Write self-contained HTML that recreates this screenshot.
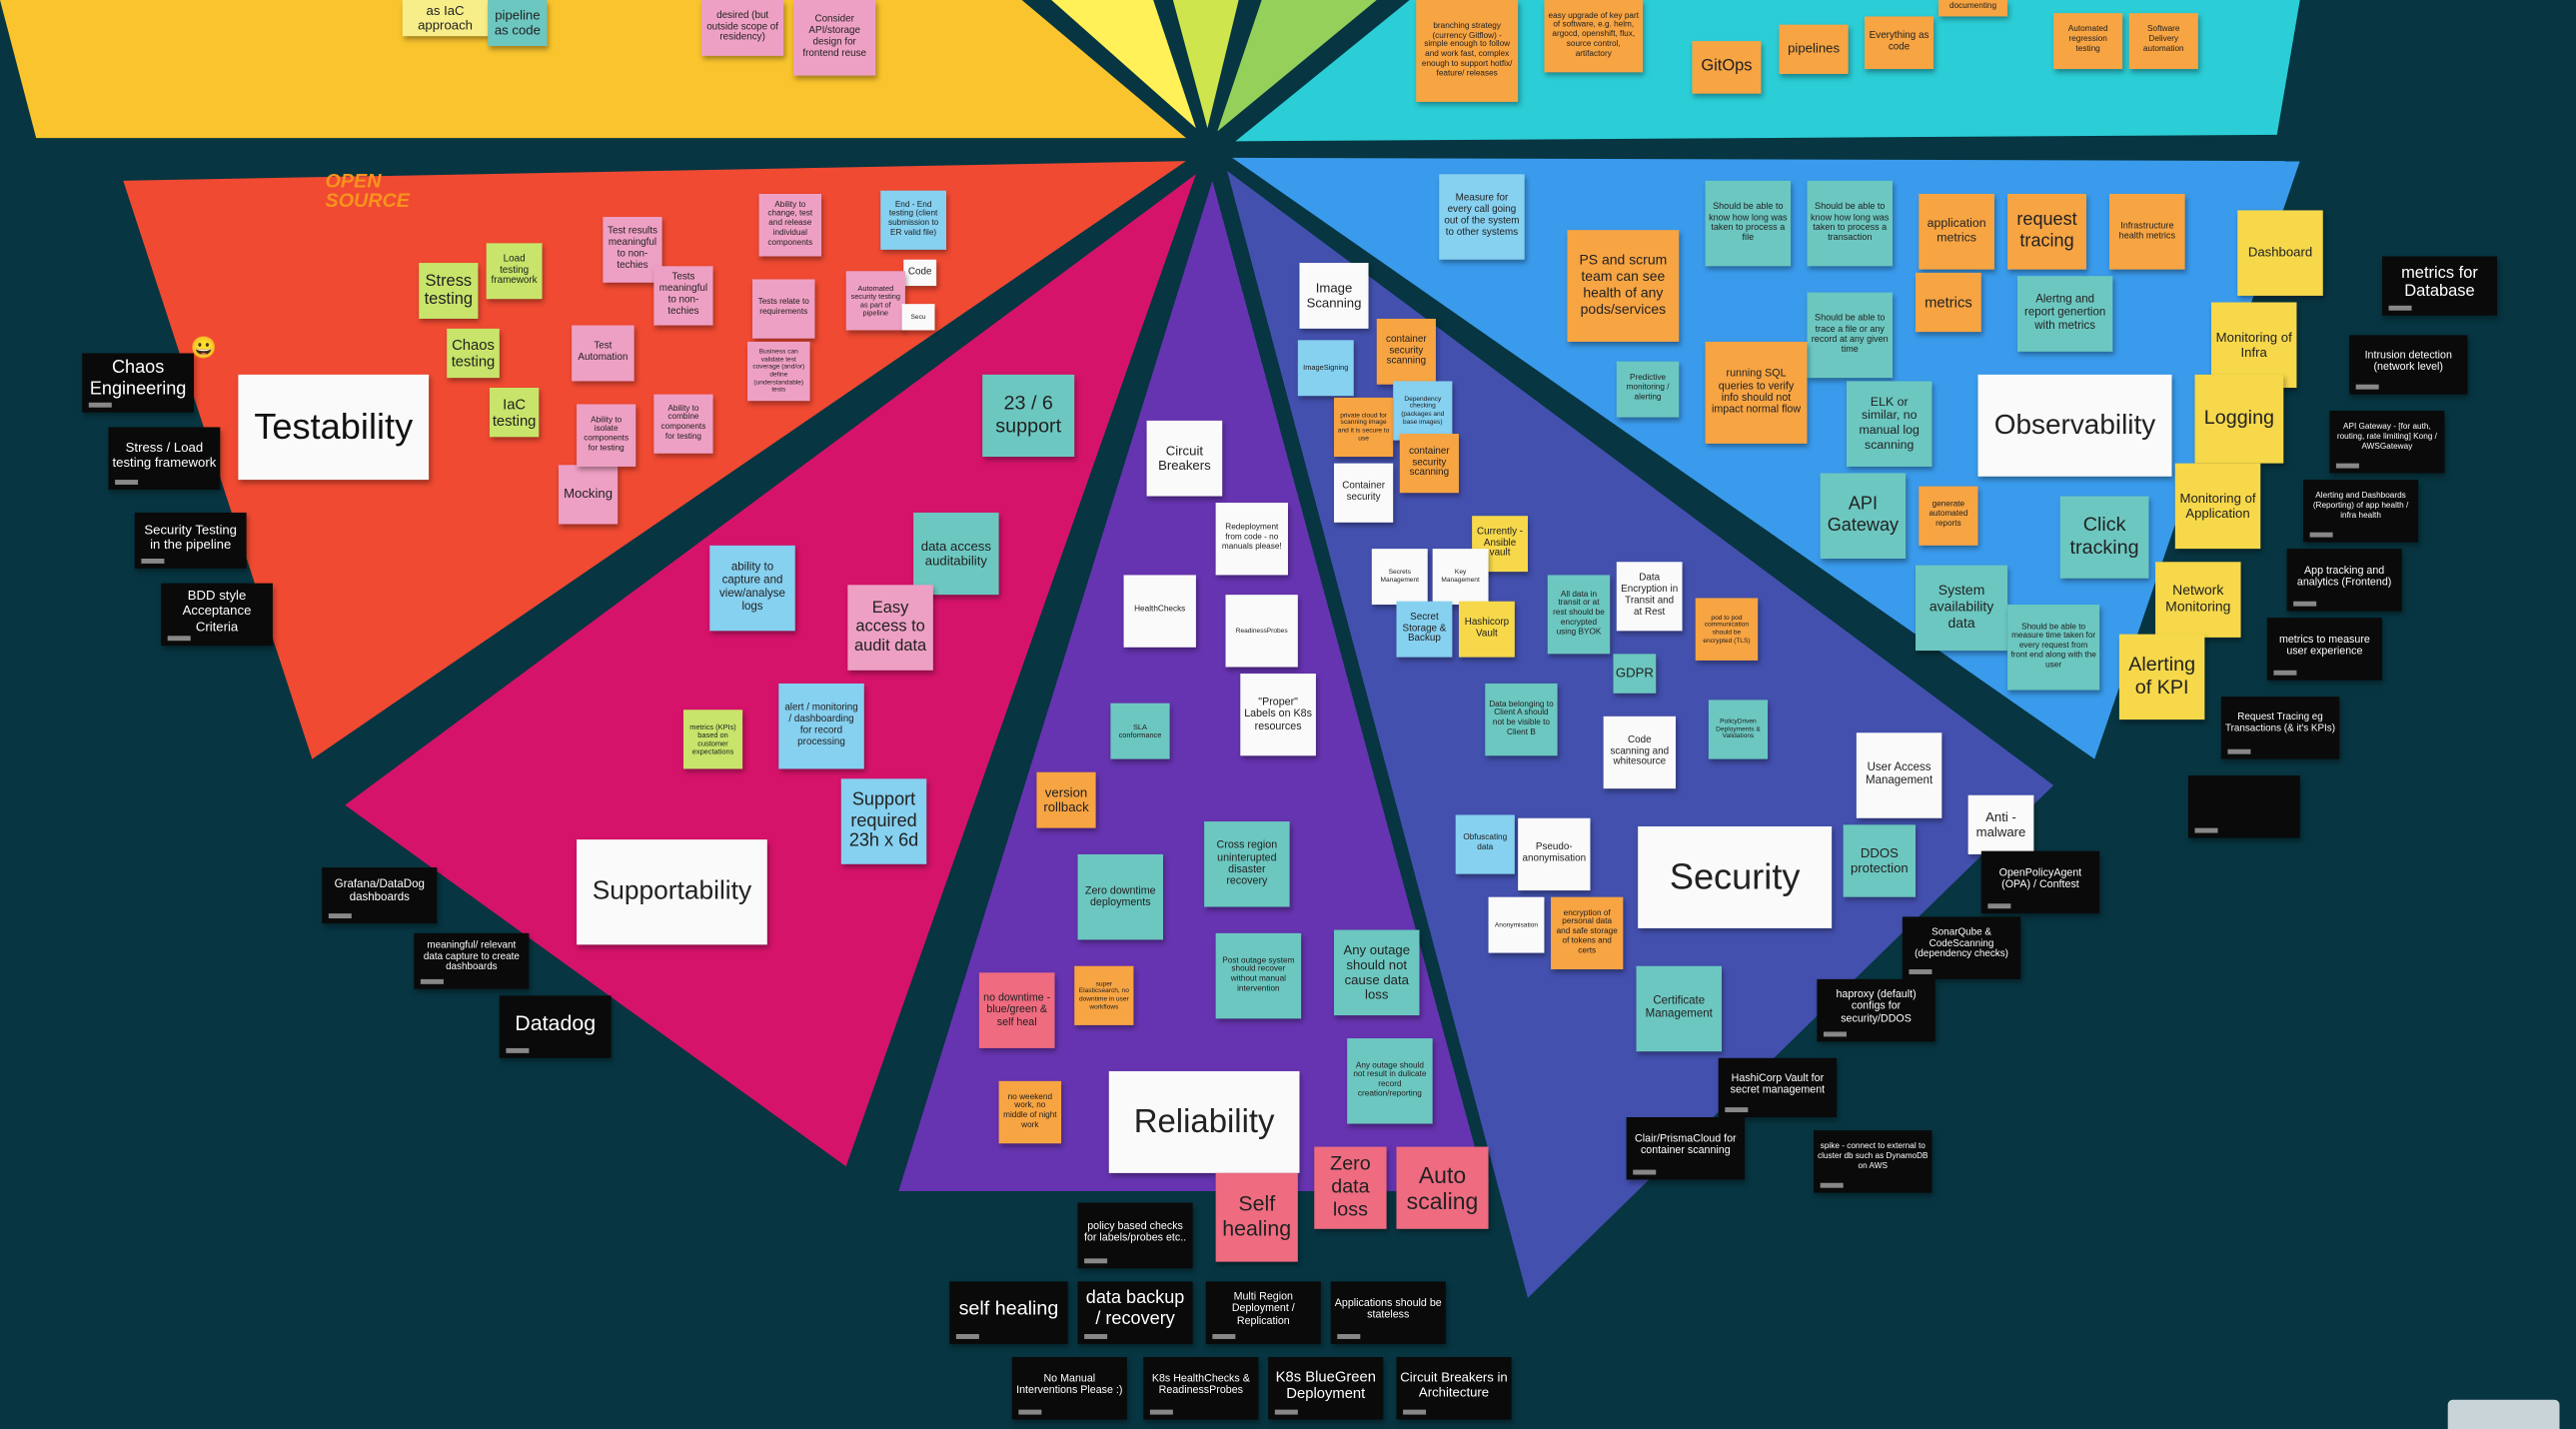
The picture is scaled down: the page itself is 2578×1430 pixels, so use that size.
<!DOCTYPE html>
<html><head><meta charset="utf-8"><title>Architecture qualities board</title>
<style>
html,body{margin:0;padding:0;background:#073541;overflow:hidden}
#stage{position:absolute;left:0;top:0;width:1568px;height:870px;transform:scale(1.6441);transform-origin:0 0;background:#073541;font-family:"Liberation Sans",sans-serif}
svg.bg{position:absolute;left:0;top:0}
.n{position:absolute;display:flex;align-items:center;justify-content:center;text-align:center;line-height:1.15;padding:2px;box-sizing:border-box;box-shadow:1px 2px 3px rgba(0,0,0,.35);overflow:hidden;color:#222;font-size:6px}
.p{background:#eea0c4}.g{background:#c8e46a}.t{background:#6cc7c0}.b{background:#86d0f0}.o{background:#f7a443}.y{background:#f6d84a}.w{background:#fafafa}.r{background:#ee6b80}.ly{background:#f7ee8a}
.k{background:#0a0a0a;color:#fff;padding-bottom:6px}
.k::after{content:"";position:absolute;left:4px;bottom:3px;width:14px;height:3px;background:#888}
.big{font-size:20px;color:#111}
</style></head><body>
<div id="stage">
<svg class="bg" width="1568" height="870" viewBox="0 0 1568 870">
<polygon fill="#f9c42d" points="0,0 622,0 722,84 22,84"/>
<polygon fill="#fff157" points="640,0 702,0 728,78"/>
<polygon fill="#cfe54e" points="714,0 754,0 735,78"/>
<polygon fill="#94d05a" points="768,0 838,0 741,80"/>
<polygon fill="#2bcdd6" points="858,0 1400,0 1386,82 752,86"/>
<polygon fill="#3a9bec" points="750,96 1400,98 1275,462"/>
<polygon fill="#4350ae" points="747,104 1250,478 930,790"/>
<polygon fill="#6634b0" points="738,110 905,725 547,725"/>
<polygon fill="#d5136a" points="728,106 515,710 210,490"/>
<polygon fill="#f04a32" points="722,98 75,110 190,462"/>
</svg>

<!-- top yellow -->
<div class="n ly" style="left:245px;top:0;width:52px;height:22px;font-size:8px">as IaC approach</div>
<div class="n t" style="left:297px;top:0;width:36px;height:28px;font-size:8px">pipeline as code</div>
<div class="n p" style="left:427px;top:0;width:50px;height:34px">desired (but outside scope of residency)</div>
<div class="n p" style="left:483px;top:0;width:50px;height:46px">Consider API/storage design for frontend reuse</div>
<!-- top cyan -->
<div class="n o" style="left:862px;top:0;width:62px;height:62px;font-size:5px">branching strategy (currency Gitflow) - simple enough to follow and work fast, complex enough to support hotfix/ feature/ releases</div>
<div class="n o" style="left:940px;top:0;width:60px;height:44px;font-size:5px">easy upgrade of key part of software, e.g. helm, argocd, openshift, flux, source control, artifactory</div>
<div class="n o" style="left:1030px;top:25px;width:42px;height:32px;font-size:10px">GitOps</div>
<div class="n o" style="left:1083px;top:15px;width:42px;height:30px;font-size:8px">pipelines</div>
<div class="n o" style="left:1135px;top:10px;width:42px;height:32px">Everything as code</div>
<div class="n o" style="left:1180px;top:0;width:42px;height:10px;font-size:5px">documenting</div>
<div class="n o" style="left:1250px;top:8px;width:42px;height:34px;font-size:5px">Automated regression testing</div>
<div class="n o" style="left:1296px;top:8px;width:42px;height:34px;font-size:5px">Software Delivery automation</div>

<!-- testability -->
<div style="position:absolute;left:198px;top:104px;color:#f7941d;font-weight:bold;font-style:italic;font-size:12px;line-height:1">OPEN<br>SOURCE</div>
<div style="position:absolute;left:116px;top:204px;font-size:13px">😀</div>
<div class="n w big" style="left:145px;top:228px;width:116px;height:64px;font-size:22px">Testability</div>
<div class="n g" style="left:255px;top:160px;width:36px;height:34px;font-size:10px">Stress testing</div>
<div class="n g" style="left:296px;top:148px;width:34px;height:34px">Load testing framework</div>
<div class="n g" style="left:272px;top:200px;width:32px;height:30px;font-size:9px">Chaos testing</div>
<div class="n g" style="left:298px;top:236px;width:30px;height:30px;font-size:9px">IaC testing</div>
<div class="n p" style="left:340px;top:283px;width:36px;height:36px;font-size:8px">Mocking</div>
<div class="n p" style="left:367px;top:132px;width:36px;height:40px">Test results meaningful to non-techies</div>
<div class="n p" style="left:398px;top:162px;width:36px;height:36px">Tests meaningful to non-techies</div>
<div class="n p" style="left:348px;top:198px;width:38px;height:34px">Test Automation</div>
<div class="n p" style="left:351px;top:246px;width:36px;height:38px;font-size:5px">Ability to isolate components for testing</div>
<div class="n p" style="left:398px;top:240px;width:36px;height:36px;font-size:5px">Ability to combine components for testing</div>
<div class="n p" style="left:462px;top:118px;width:38px;height:38px;font-size:5px">Ability to change, test and release individual components</div>
<div class="n p" style="left:458px;top:170px;width:38px;height:36px;font-size:5px">Tests relate to requirements</div>
<div class="n p" style="left:455px;top:208px;width:38px;height:36px;font-size:4px">Business can validate test coverage (and/or) define (understandable) tests</div>
<div class="n b" style="left:536px;top:116px;width:40px;height:36px;font-size:5px">End - End testing (client submission to ER valid file)</div>
<div class="n w" style="left:550px;top:158px;width:20px;height:16px">Code</div>
<div class="n p" style="left:515px;top:165px;width:36px;height:36px;font-size:4.5px">Automated security testing as part of pipeline</div>
<div class="n w" style="left:549px;top:185px;width:20px;height:16px;font-size:4px">Secu</div>
<div class="n k" style="left:50px;top:215px;width:68px;height:36px;font-size:11px">Chaos Engineering</div>
<div class="n k" style="left:66px;top:260px;width:68px;height:38px;font-size:8px">Stress / Load testing framework</div>
<div class="n k" style="left:82px;top:312px;width:68px;height:34px;font-size:8px">Security Testing in the pipeline</div>
<div class="n k" style="left:98px;top:355px;width:68px;height:38px;font-size:8px">BDD style Acceptance Criteria</div>

<!-- supportability -->
<div class="n w" style="left:351px;top:511px;width:116px;height:64px;font-size:16px">Supportability</div>
<div class="n t" style="left:598px;top:228px;width:56px;height:50px;font-size:12px">23 / 6 support</div>
<div class="n t" style="left:556px;top:312px;width:52px;height:50px;font-size:8px">data access auditability</div>
<div class="n b" style="left:432px;top:332px;width:52px;height:52px;font-size:7px">ability to capture and view/analyse logs</div>
<div class="n p" style="left:516px;top:356px;width:52px;height:52px;font-size:10px">Easy access to audit data</div>
<div class="n b" style="left:474px;top:416px;width:52px;height:52px;font-size:6px">alert / monitoring / dashboarding for record processing</div>
<div class="n b" style="left:512px;top:474px;width:52px;height:52px;font-size:11px">Support required 23h x 6d</div>
<div class="n g" style="left:416px;top:432px;width:36px;height:36px;font-size:4.5px">metrics (KPIs) based on customer expectations</div>
<div class="n k" style="left:196px;top:528px;width:70px;height:34px;font-size:7px">Grafana/DataDog dashboards</div>
<div class="n k" style="left:252px;top:568px;width:70px;height:34px;font-size:6px">meaningful/ relevant data capture to create dashboards</div>
<div class="n k" style="left:304px;top:606px;width:68px;height:38px;font-size:13px">Datadog</div>

<!-- reliability -->
<div class="n w" style="left:675px;top:652px;width:116px;height:62px;font-size:20px">Reliability</div>
<div class="n w" style="left:698px;top:256px;width:46px;height:46px;font-size:8px">Circuit Breakers</div>
<div class="n w" style="left:740px;top:306px;width:44px;height:44px;font-size:5px">Redeployment from code - no manuals please!</div>
<div class="n w" style="left:684px;top:350px;width:44px;height:44px;font-size:5px">HealthChecks</div>
<div class="n w" style="left:746px;top:362px;width:44px;height:44px;font-size:4px">ReadinessProbes</div>
<div class="n w" style="left:755px;top:410px;width:46px;height:50px;font-size:6.5px">"Proper" Labels on K8s resources</div>
<div class="n t" style="left:676px;top:428px;width:36px;height:34px;font-size:4.5px">SLA conformance</div>
<div class="n o" style="left:631px;top:470px;width:36px;height:34px;font-size:8px">version rollback</div>
<div class="n t" style="left:733px;top:500px;width:52px;height:52px;font-size:6.5px">Cross region uninterupted disaster recovery</div>
<div class="n t" style="left:656px;top:520px;width:52px;height:52px;font-size:6.5px">Zero downtime deployments</div>
<div class="n t" style="left:740px;top:568px;width:52px;height:52px;font-size:5px">Post outage system should recover without manual intervention</div>
<div class="n t" style="left:812px;top:566px;width:52px;height:52px;font-size:8px">Any outage should not cause data loss</div>
<div class="n r" style="left:596px;top:592px;width:46px;height:46px;font-size:6.5px">no downtime - blue/green &amp; self heal</div>
<div class="n o" style="left:654px;top:588px;width:36px;height:36px;font-size:4px">super Elasticsearch, no downtime in user workflows</div>
<div class="n o" style="left:608px;top:658px;width:38px;height:38px;font-size:5px">no weekend work, no middle of night work</div>
<div class="n t" style="left:820px;top:632px;width:52px;height:52px;font-size:5px">Any outage should not result in dulicate record creation/reporting</div>
<div class="n r" style="left:740px;top:714px;width:50px;height:54px;font-size:13px">Self healing</div>
<div class="n r" style="left:800px;top:698px;width:44px;height:50px;font-size:12px">Zero data loss</div>
<div class="n r" style="left:850px;top:698px;width:56px;height:50px;font-size:14px">Auto scaling</div>
<div class="n k" style="left:656px;top:732px;width:70px;height:40px;font-size:6.5px">policy based checks for labels/probes etc..</div>
<div class="n k" style="left:578px;top:780px;width:72px;height:38px;font-size:12px">self healing</div>
<div class="n k" style="left:656px;top:780px;width:70px;height:38px;font-size:11px">data backup / recovery</div>
<div class="n k" style="left:734px;top:780px;width:70px;height:38px;font-size:6.5px">Multi Region Deployment / Replication</div>
<div class="n k" style="left:810px;top:780px;width:70px;height:38px;font-size:6.5px">Applications should be stateless</div>
<div class="n k" style="left:616px;top:826px;width:70px;height:38px;font-size:6.5px">No Manual Interventions Please :)</div>
<div class="n k" style="left:696px;top:826px;width:70px;height:38px;font-size:6.5px">K8s HealthChecks &amp; ReadinessProbes</div>
<div class="n k" style="left:772px;top:826px;width:70px;height:38px;font-size:9px">K8s BlueGreen Deployment</div>
<div class="n k" style="left:850px;top:826px;width:70px;height:38px;font-size:8px">Circuit Breakers in Architecture</div>

<!-- security -->
<div class="n w" style="left:997px;top:503px;width:118px;height:62px;font-size:22px">Security</div>
<div class="n w" style="left:791px;top:160px;width:42px;height:40px;font-size:8px">Image Scanning</div>
<div class="n b" style="left:790px;top:207px;width:34px;height:34px;font-size:4.5px">ImageSigning</div>
<div class="n o" style="left:838px;top:194px;width:36px;height:40px">container security scanning</div>
<div class="n o" style="left:812px;top:242px;width:36px;height:36px;font-size:4px">private cloud for scanning image and it is secure to use</div>
<div class="n b" style="left:848px;top:232px;width:36px;height:36px;font-size:4px">Dependency checking (packages and base images)</div>
<div class="n o" style="left:852px;top:264px;width:36px;height:36px">container security scanning</div>
<div class="n w" style="left:812px;top:282px;width:36px;height:36px">Container security</div>
<div class="n y" style="left:896px;top:314px;width:34px;height:34px">Currently - Ansible vault</div>
<div class="n w" style="left:835px;top:334px;width:34px;height:34px;font-size:4px">Secrets Management</div>
<div class="n w" style="left:872px;top:334px;width:34px;height:34px;font-size:4px">Key Management</div>
<div class="n b" style="left:850px;top:366px;width:34px;height:34px">Secret Storage &amp; Backup</div>
<div class="n y" style="left:888px;top:366px;width:34px;height:34px">Hashicorp Vault</div>
<div class="n t" style="left:942px;top:350px;width:38px;height:48px;font-size:5px">All data in transit or at rest should be encrypted using BYOK</div>
<div class="n w" style="left:984px;top:342px;width:40px;height:42px">Data Encryption in Transit and at Rest</div>
<div class="n o" style="left:1032px;top:364px;width:38px;height:38px;font-size:4px">pod to pod communication should be encrypted (TLS)</div>
<div class="n t" style="left:982px;top:398px;width:26px;height:24px;font-size:8px">GDPR</div>
<div class="n t" style="left:904px;top:416px;width:44px;height:44px;font-size:5px">Data belonging to Client A should not be visible to Client B</div>
<div class="n w" style="left:976px;top:436px;width:44px;height:44px">Code scanning and whitesource</div>
<div class="n t" style="left:1040px;top:426px;width:36px;height:36px;font-size:4px">PolicyDriven Deployments &amp; Validations</div>
<div class="n b" style="left:886px;top:496px;width:36px;height:36px;font-size:5px">Obfuscating data</div>
<div class="n w" style="left:924px;top:498px;width:44px;height:44px">Pseudo-anonymisation</div>
<div class="n w" style="left:906px;top:546px;width:34px;height:34px;font-size:4px">Anonymisation</div>
<div class="n o" style="left:944px;top:546px;width:44px;height:44px;font-size:5px">encryption of personal data and safe storage of tokens and certs</div>
<div class="n t" style="left:1122px;top:502px;width:44px;height:44px;font-size:8px">DDOS protection</div>
<div class="n w" style="left:1130px;top:446px;width:52px;height:52px;font-size:7px">User Access Management</div>
<div class="n w" style="left:1198px;top:484px;width:40px;height:36px;font-size:8px">Anti - malware</div>
<div class="n t" style="left:996px;top:588px;width:52px;height:52px;font-size:7px">Certificate Management</div>
<div class="n k" style="left:1206px;top:518px;width:72px;height:38px;font-size:6.5px">OpenPolicyAgent (OPA) / Conftest</div>
<div class="n k" style="left:1158px;top:558px;width:72px;height:38px;font-size:6px">SonarQube &amp; CodeScanning (dependency checks)</div>
<div class="n k" style="left:1106px;top:596px;width:72px;height:38px;font-size:6.5px">haproxy (default) configs for security/DDOS</div>
<div class="n k" style="left:1046px;top:644px;width:72px;height:36px;font-size:6.5px">HashiCorp Vault for secret management</div>
<div class="n k" style="left:990px;top:680px;width:72px;height:38px;font-size:6.5px">Clair/PrismaCloud for container scanning</div>
<div class="n k" style="left:1104px;top:688px;width:72px;height:38px;font-size:5px">spike - connect to external to cluster db such as DynamoDB on AWS</div>

<!-- observability -->
<div class="n w" style="left:1204px;top:228px;width:118px;height:62px;font-size:17px">Observability</div>
<div class="n b" style="left:876px;top:106px;width:52px;height:52px;font-size:6px">Measure for every call going out of the system to other systems</div>
<div class="n o" style="left:954px;top:140px;width:68px;height:68px;font-size:8.5px">PS and scrum team can see health of any pods/services</div>
<div class="n t" style="left:1038px;top:110px;width:52px;height:52px;font-size:5.5px">Should be able to know how long was taken to process a file</div>
<div class="n t" style="left:1100px;top:110px;width:52px;height:52px;font-size:5.5px">Should be able to know how long was taken to process a transaction</div>
<div class="n o" style="left:1168px;top:118px;width:46px;height:46px;font-size:7.5px">application metrics</div>
<div class="n o" style="left:1222px;top:118px;width:48px;height:46px;font-size:11px">request tracing</div>
<div class="n o" style="left:1284px;top:118px;width:46px;height:46px;font-size:5.5px">Infrastructure health metrics</div>
<div class="n o" style="left:1166px;top:166px;width:40px;height:36px;font-size:9px">metrics</div>
<div class="n t" style="left:1228px;top:168px;width:58px;height:46px;font-size:7px">Alertng and report genertion with metrics</div>
<div class="n t" style="left:1100px;top:178px;width:52px;height:52px;font-size:5.5px">Should be able to trace a file or any record at any given time</div>
<div class="n t" style="left:984px;top:220px;width:38px;height:34px;font-size:5px">Predictive monitoring / alerting</div>
<div class="n o" style="left:1038px;top:208px;width:62px;height:62px;font-size:6.5px">running SQL queries to verify info should not impact normal flow</div>
<div class="n t" style="left:1124px;top:232px;width:52px;height:52px;font-size:7.5px">ELK or similar, no manual log scanning</div>
<div class="n t" style="left:1108px;top:288px;width:52px;height:52px;font-size:11px">API Gateway</div>
<div class="n o" style="left:1168px;top:296px;width:36px;height:36px;font-size:5px">generate automated reports</div>
<div class="n t" style="left:1254px;top:302px;width:54px;height:50px;font-size:12px">Click tracking</div>
<div class="n t" style="left:1166px;top:344px;width:56px;height:52px;font-size:8.5px">System availability data</div>
<div class="n t" style="left:1222px;top:368px;width:56px;height:52px;font-size:5px">Should be able to measure time taken for every request from front end along with the user</div>
<div class="n y" style="left:1362px;top:128px;width:52px;height:52px;font-size:8px">Dashboard</div>
<div class="n y" style="left:1346px;top:184px;width:52px;height:52px;font-size:8px">Monitoring of Infra</div>
<div class="n y" style="left:1336px;top:228px;width:54px;height:54px;font-size:12px">Logging</div>
<div class="n y" style="left:1324px;top:282px;width:52px;height:52px;font-size:8px">Monitoring of Application</div>
<div class="n y" style="left:1312px;top:342px;width:52px;height:46px;font-size:8.5px">Network Monitoring</div>
<div class="n y" style="left:1290px;top:386px;width:52px;height:52px;font-size:12px">Alerting of KPI</div>
<div class="n k" style="left:1450px;top:156px;width:70px;height:36px;font-size:10px">metrics for Database</div>
<div class="n k" style="left:1430px;top:204px;width:72px;height:36px;font-size:6.5px">Intrusion detection (network level)</div>
<div class="n k" style="left:1418px;top:250px;width:70px;height:38px;font-size:5px">API Gateway - [for auth, routing, rate limiting] Kong / AWSGateway</div>
<div class="n k" style="left:1402px;top:292px;width:70px;height:38px;font-size:5px">Alerting and Dashboards (Reporting) of app health / infra health</div>
<div class="n k" style="left:1392px;top:334px;width:70px;height:38px;font-size:6.5px">App tracking and analytics (Frontend)</div>
<div class="n k" style="left:1380px;top:376px;width:70px;height:38px;font-size:6.5px">metrics to measure user experience</div>
<div class="n k" style="left:1352px;top:424px;width:72px;height:38px;font-size:6px">Request Tracing eg Transactions (&amp; it's KPIs)</div>
<div class="n k" style="left:1332px;top:472px;width:68px;height:38px"></div>
<div style="position:absolute;left:1490px;top:852px;width:68px;height:18px;background:#c8d4d8;border-radius:3px 3px 0 0"></div>
</div>
</body></html>
